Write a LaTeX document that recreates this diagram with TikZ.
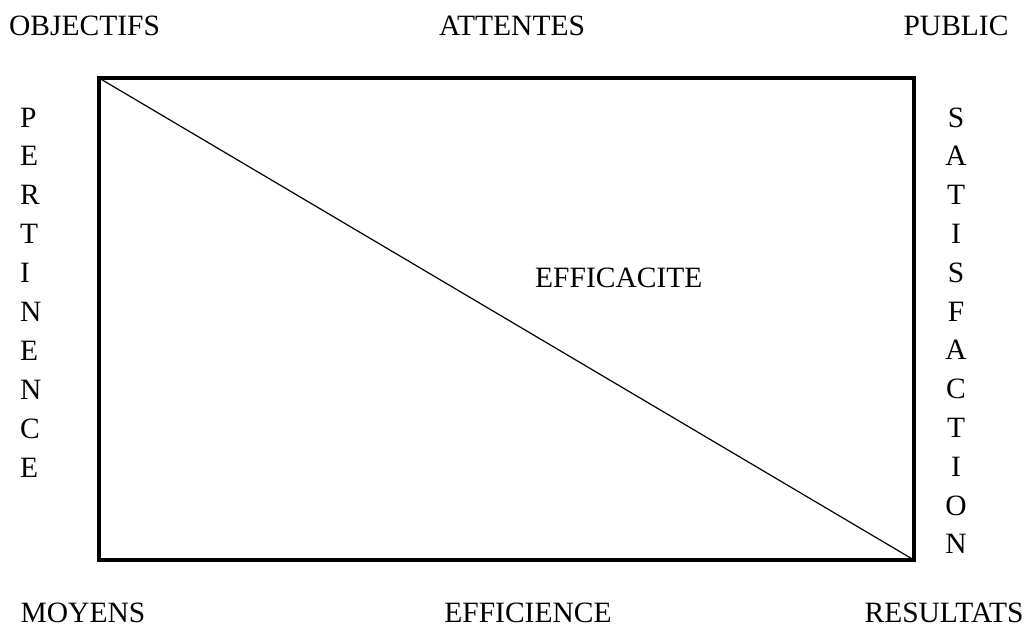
\documentclass[tikz,border=0pt]{standalone}
\usepackage{fontspec}
\setmainfont{Liberation Serif}
\usepackage{tikz}
\usetikzlibrary{calc, positioning}

\tikzset{
    etiquette/.style={inner sep=0pt, font=\fontsize{29.5}{35}\selectfont},
    cadre/.style={line width=4pt},
}

\begin{document}
\begin{tikzpicture}[x=1pt, y=-1pt]
            \useasboundingbox (0,0) rectangle (1030,629);

            % 1. Le cadre et la diagonale
            \coordinate (hg) at (99,78);
            \coordinate (bd) at (914,560);
            \draw[cadre] (hg) rectangle (bd);
            \draw[line width=1.2pt] (hg) -- (bd);

            % 2. Les libellés du haut et du bas
            \node[etiquette, anchor=base west] (objectifs) at (9,35) {OBJECTIFS};
            \node[etiquette, anchor=base] (attentes) at (512,35) {ATTENTES};
            \node[etiquette, anchor=base] (public) at (956,35) {PUBLIC};
            \node[etiquette, anchor=base] (moyens) at (83,622) {MOYENS};
            \node[etiquette, anchor=base] (efficience) at (528,622) {EFFICIENCE};
            \node[etiquette, anchor=base] (resultats) at (944,622) {RESULTATS};
            \node[etiquette, anchor=base west] (efficacite) at (535,287) {EFFICACITE};

            % 3. Les mots verticaux
            \foreach \lettre [count=\i] in {P,E,R,T,I,N,E,N,C,E} {
                \node[etiquette, anchor=base west] (pert\i) at (20,{127+38.9*(\i-1)}) {\lettre};
            }
            \foreach \lettre [count=\i] in {S,A,T,I,S,F,A,C,T,I,O,N} {
                \node[etiquette, anchor=base] (satis\i) at (956,{127+38.8*(\i-1)}) {\lettre};
            }
        \end{tikzpicture}
\end{document}
